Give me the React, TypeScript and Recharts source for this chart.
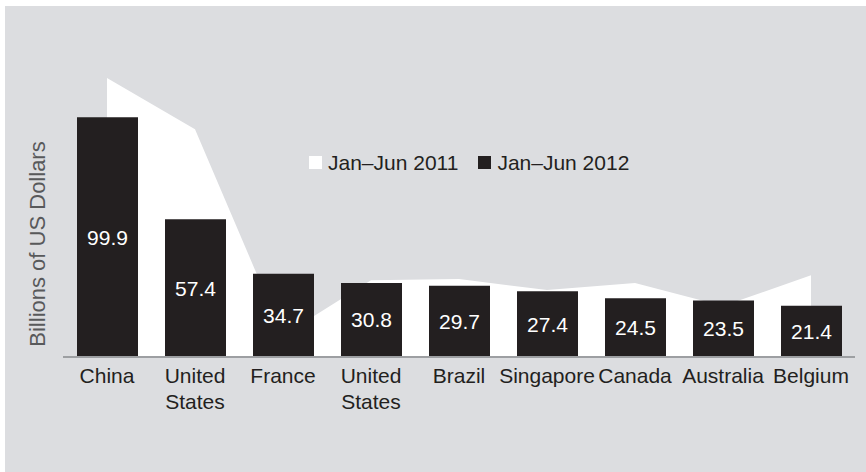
import { ComposedChart, Area, Bar, XAxis, YAxis, Legend, LabelList } from "recharts";

const countries = ["China", "United States", "France", "United States", "Brazil", "Singapore", "Canada", "Australia", "Belgium"];
const h1_2011 = [116.2, 94.9, 9.0, 32.0, 32.5, 27.9, 30.8, 21.2, 34.1];
const h1_2012 = [99.9, 57.4, 34.7, 30.8, 29.7, 27.4, 24.5, 23.5, 21.4];
const seriesNames = ["Jan\u2013Jun 2011", "Jan\u2013Jun 2012"];

const FONT = "'Liberation Sans', Arial, Helvetica, sans-serif";
const INK = "#231f20";

const data = countries.map((name, i) => ({ name, y2011: h1_2011[i], y2012: h1_2012[i] }));

function CountryTick({ x, y, payload }: any) {
  const lines = String(payload.value).split(" ");
  return (
    <text x={x} y={y} textAnchor="middle" fill={INK} fontSize={21} fontFamily={FONT}>
      {lines.map((l, i) => (
        <tspan key={i} x={x} dy={i === 0 ? 18 : 26}>
          {l}
        </tspan>
      ))}
    </text>
  );
}

function YLabel({ viewBox }: any) {
  const cx = 45;
  const cy = viewBox.y + viewBox.height / 2 + 37;
  return (
    <text
      x={cx}
      y={cy}
      transform={`rotate(-90, ${cx}, ${cy})`}
      textAnchor="middle"
      fill="#58595b"
      fontSize={22}
      fontFamily={FONT}
    >
      Billions of US Dollars
    </text>
  );
}

function LegendBox() {
  const colors = ["#ffffff", INK];
  return (
    <div style={{ display: "flex", alignItems: "baseline", fontFamily: FONT, fontSize: 21, color: INK, lineHeight: "21px" }}>
      {seriesNames.map((n, i) => (
        <div key={n} style={{ display: "flex", alignItems: "flex-end", marginRight: i === 0 ? 20 : 0 }}>
          <span style={{ width: 13, height: 13, background: colors[i], display: "inline-block", marginRight: 6, marginBottom: 4 }} />
          <span>{n}</span>
        </div>
      ))}
    </div>
  );
}

export default function App() {
  return (
    <div style={{ position: "fixed", left: 0, top: 0, width: 866, height: 472, background: "#fff" }}>
      <div style={{ position: "absolute", left: 5, top: 6, width: 861, height: 466, background: "#dcdde0" }} />
      <div style={{ position: "absolute", left: 0, top: 0 }}>
        <ComposedChart width={866} height={472} data={data} margin={{ top: 57, right: 11, bottom: 55, left: 0 }}>
          <XAxis
            dataKey="name"
            interval={0}
            tickLine={false}
            axisLine={{ stroke: "#9d9fa2", strokeWidth: 2 }}
            tick={<CountryTick />}
            height={60}
          />
          <YAxis width={63} domain={[0, 125]} axisLine={false} tickLine={false} tick={false} label={<YLabel />} />
          <Legend
            verticalAlign="middle"
            layout="horizontal"
            content={() => <LegendBox />}
            wrapperStyle={{ left: 309, top: 152, width: "auto" }}
          />
          <Area type="linear" dataKey="y2011" name={seriesNames[0]} fill="#ffffff" fillOpacity={1} stroke="none" isAnimationActive={false} />
          <Bar dataKey="y2012" name={seriesNames[1]} fill={INK} barSize={61} isAnimationActive={false}>
            <LabelList dataKey="y2012" position="center" fill="#ffffff" fontSize={21} fontFamily={FONT} />
          </Bar>
        </ComposedChart>
      </div>
    </div>
  );
}
